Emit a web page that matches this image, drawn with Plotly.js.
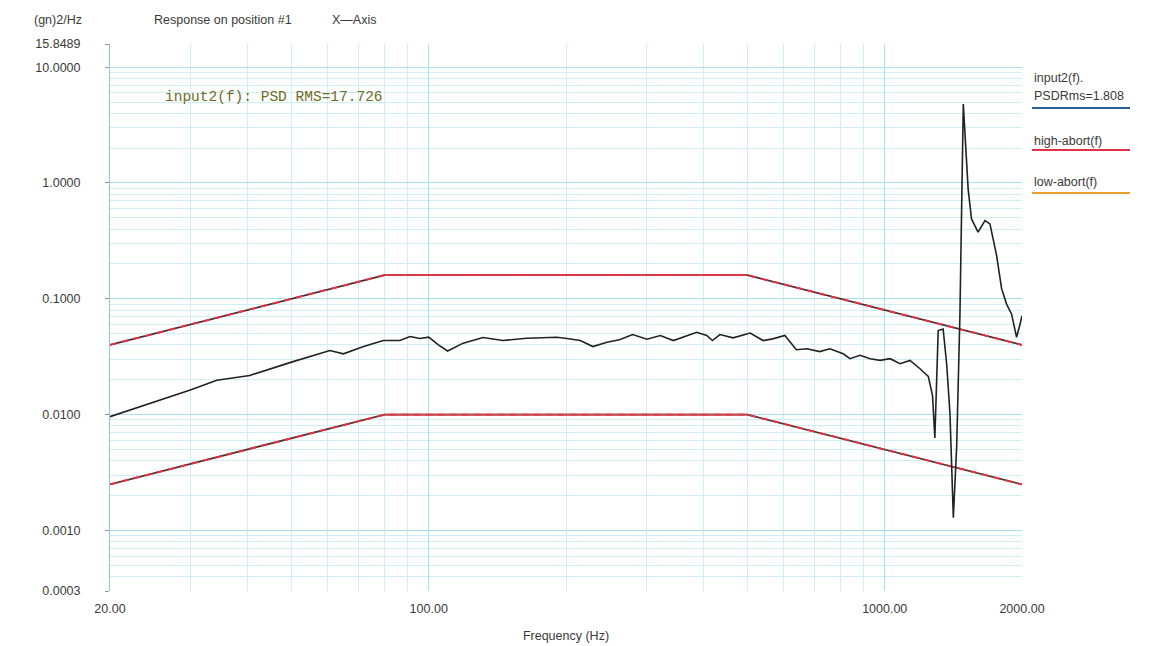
<!DOCTYPE html>
<html>
<head>
<meta charset="utf-8">
<script src="https://cdn.plot.ly/plotly-3.0.1.min.js"></script>
<style>
  html, body { margin:0; padding:0; background:#fff; }
  #chart { width:1159px; height:646px; }
</style>
</head>
<body>
<div id="chart"></div>
<script>
// ── Data ────────────────────────────────────────────────────────────────────
const respFreq = [20, 25, 30, 34.3, 40.5, 50, 60.7, 65, 72, 79.5, 86.5, 91, 95.7, 100, 105,
  110, 119, 131.5, 145.5, 164, 191, 201, 215, 229, 246, 262, 280, 301, 322, 344, 368, 387,
  407, 419, 435, 465, 507, 541, 568, 585, 604, 640, 675, 720, 758, 811, 839, 883, 929, 977,
  1028, 1080, 1136, 1195, 1246, 1273, 1288, 1310, 1343, 1367, 1390, 1414, 1438, 1462, 1487,
  1524, 1550, 1602, 1659, 1701, 1759, 1804, 1850, 1897, 1946, 1981, 2000];
const respPsd = [0.0096, 0.0129, 0.0163, 0.0198, 0.0218, 0.0284, 0.0358, 0.0335, 0.0387, 0.0436,
  0.0436, 0.0472, 0.0454, 0.0466, 0.040, 0.0354, 0.0414, 0.0463, 0.0436, 0.0457, 0.0466, 0.0454,
  0.0436, 0.0387, 0.0422, 0.0443, 0.0491, 0.0448, 0.0482, 0.0436, 0.0482, 0.0514, 0.0482, 0.0436,
  0.0491, 0.0460, 0.0506, 0.0436, 0.0451, 0.0466, 0.0482, 0.0363, 0.0370, 0.0350, 0.0370, 0.0335,
  0.0304, 0.0325, 0.0304, 0.0294, 0.0304, 0.0275, 0.0294, 0.0249, 0.0214, 0.0146, 0.0063, 0.0532,
  0.0549, 0.0275, 0.0103, 0.00129, 0.0053, 0.074, 4.8, 0.88, 0.489, 0.376, 0.473, 0.443, 0.237,
  0.123, 0.090, 0.074, 0.0466, 0.0605, 0.0715];

const limFreq   = [20, 80, 500, 2000];
const highAbort = [0.04, 0.16, 0.16, 0.04];
const lowAbort  = [0.0025, 0.01, 0.01, 0.0025];

const yTickVals = [15.8489, 10, 1, 0.1, 0.01, 0.001, 0.0003];
const yTickText = ['15.8489', '10.0000', '1.0000', '0.1000', '0.0100', '0.0010', '0.0003'];
const xTickVals = [20, 100, 1000, 2000];
const xTickText = ['20.00', '100.00', '1000.00', '2000.00'];

// ── Plot box (px) and helpers ───────────────────────────────────────────────
const M = { t:44, r:137, b:55, l:110 };
const PW = 1159 - M.l - M.r, PH = 646 - M.t - M.b;
const px = x => (x - M.l) / PW;          // page px → paper x
const py = y => (646 - M.b - y) / PH;    // page px → paper y

function logMinor(lo, hi) {
  const out = [];
  for (let e = Math.floor(Math.log10(lo)); e <= Math.ceil(Math.log10(hi)); e++)
    for (let d = 2; d <= 9; d++) { const v = d * Math.pow(10, e); if (v > lo && v < hi) out.push(v); }
  return out;
}

const FONT = { family:'Liberation Sans, Arial, sans-serif', size:12.5, color:'#3a3a3a' };
const GRID = '#a9e1ea', MINOR = '#d0eff4';

// abort limits: dark base + red dashes, flat part solid
function limTraces(ys, name, base, flat) {
  return [
    { x:limFreq, y:ys, mode:'lines', name, hoverinfo:'skip', line:{ color:base, width:1.8 } },
    { x:limFreq, y:ys, mode:'lines', name, line:{ color:'#ee2a3e', width:1.8, dash:'7px,5px' } },
    { x:limFreq.slice(1, 3), y:ys.slice(1, 3), mode:'lines', name, line:{ color:flat, width:1.8 } },
  ];
}

const traces = [
  ...limTraces(highAbort, 'high-abort(f)', '#3a3030', '#e0354a'),
  ...limTraces(lowAbort,  'low-abort(f)',  '#4a3a30', '#d8404a'),
  { x:respFreq, y:respPsd, mode:'lines', name:'input2(f)', line:{ color:'#222', width:1.6 } },
];

function note(x, y, text, anchor, font) {
  return { xref:'paper', yref:'paper', x:px(x), y:py(y), xanchor:anchor || 'left', yanchor:'middle',
    text, showarrow:false, font:font || FONT };
}

const lgX0 = 1032, lgX1 = 1130;
const legendLines = [
  { y:108, col:'#2a5f9e' },
  { y:150, col:'#e0304a' },
  { y:193, col:'#e8a030' },
];

const layout = {
  width:1159, height:646,
  paper_bgcolor:'#fff', plot_bgcolor:'#fff',
  font: FONT,
  showlegend:false,
  margin: M,
  xaxis:{
    type:'log', range:[Math.log10(20), Math.log10(2000)],
    tickmode:'array', tickvals:xTickVals, ticktext:xTickText,
    ticks:'', ticklabelstandoff:8,
    showgrid:true, gridcolor:GRID, gridwidth:1,
    minor:{ tickmode:'array', tickvals:logMinor(20, 2000), showgrid:true, gridcolor:MINOR, ticks:'' },
    showline:false, zeroline:false,
    title:{ text:'Frequency (Hz)', font:FONT, standoff:16 },
  },
  yaxis:{
    type:'log', range:[Math.log10(0.0003), Math.log10(15.8489)],
    tickmode:'array', tickvals:yTickVals, ticktext:yTickText,
    ticks:'outside', ticklen:4, tickcolor:'#999', ticklabelstandoff:22,
    showgrid:true, gridcolor:GRID, gridwidth:1,
    minor:{ tickmode:'array', tickvals:logMinor(0.0003, 15.8489), showgrid:true, gridcolor:MINOR, ticks:'' },
    showline:true, linecolor:'#8fc9d3', linewidth:1, zeroline:false,
  },
  annotations:[
    note(58, 20, '(gn)2/Hz', 'center'),
    note(152, 20, 'Response on position #1'),
    note(330, 20, 'X—Axis'),
    note(163, 97, 'input2(f): PSD RMS=17.726', 'left',
      { family:'Liberation Mono, DejaVu Sans Mono, monospace', size:14.5, color:'#6e6a1e' }),
    note(lgX0, 78, 'input2(f).'),
    note(lgX0, 96, 'PSDRms=1.808'),
    note(lgX0, 141, 'high-abort(f)'),
    note(lgX0, 182, 'low-abort(f)'),
  ],
  shapes: legendLines.map(l => ({
    type:'line', xref:'paper', yref:'paper', x0:px(lgX0), x1:px(lgX1), y0:py(l.y), y1:py(l.y),
    line:{ color:l.col, width:2 },
  })),
};

Plotly.newPlot('chart', traces, layout, { displayModeBar:false, staticPlot:true });
</script>
</body>
</html>
